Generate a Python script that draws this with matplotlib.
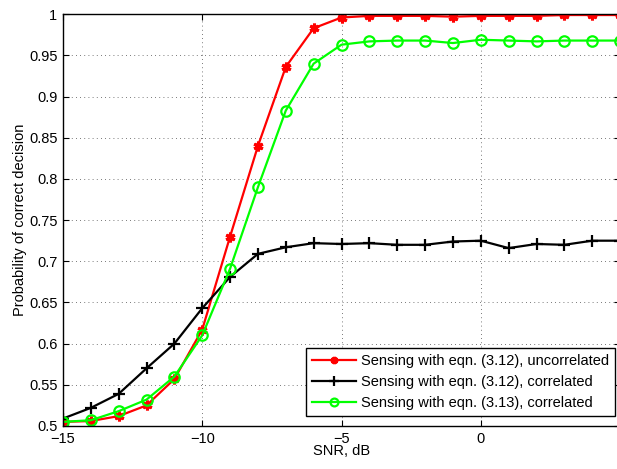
import matplotlib
matplotlib.use("Agg")
import matplotlib.pyplot as plt

plt.rcParams['font.family'] = ['Liberation Sans', 'DejaVu Sans']

snr_db = list(range(-15, 6))

p_uncorr_312 = [0.505, 0.506, 0.512, 0.525, 0.557, 0.617, 0.730, 0.840, 0.936, 0.983,
                0.996, 0.998, 0.998, 0.998, 0.997, 0.998, 0.998, 0.998, 0.999, 0.999, 0.999]
p_corr_312 = [0.509, 0.522, 0.539, 0.570, 0.600, 0.643, 0.681, 0.709, 0.717, 0.722,
              0.721, 0.722, 0.720, 0.720, 0.724, 0.725, 0.716, 0.721, 0.720, 0.725, 0.725]
p_corr_313 = [0.505, 0.507, 0.518, 0.532, 0.560, 0.610, 0.691, 0.790, 0.883, 0.940,
              0.963, 0.967, 0.968, 0.968, 0.965, 0.969, 0.968, 0.967, 0.968, 0.968, 0.968]

labels = ["Sensing with eqn. (3.12), uncorrelated",
          "Sensing with eqn. (3.12), correlated",
          "Sensing with eqn. (3.13), correlated"]

xticks = [-15, -10, -5, 0, 5]
xtick_labels = ["\u221215", "\u221210", "\u22125", "0", "5"]
yticks = [0.5, 0.55, 0.6, 0.65, 0.7, 0.75, 0.8, 0.85, 0.9, 0.95, 1.0]
ytick_labels = ["0.5", "0.55", "0.6", "0.65", "0.7", "0.75", "0.8", "0.85", "0.9", "0.95", "1"]

fig = plt.figure(figsize=(6.17, 4.69), dpi=100)
ax = fig.add_axes([0.102, 0.0917, 0.903, 0.878])

ax.plot(snr_db, p_uncorr_312, color='#ff0000', lw=1.6, marker=(6, 2, 0),
        ms=7, mew=2.2, label=labels[0])
ax.plot(snr_db, p_corr_312, color='black', lw=1.6, marker='+',
        ms=9, mew=1.6, label=labels[1])
ax.plot(snr_db, p_corr_313, color='#00ff00', lw=1.6, marker='o',
        ms=7.5, mew=1.6, mfc='none', label=labels[2])

ax.set_xlim(-15, 5)
ax.set_ylim(0.5, 1.0)
ax.set_xticks(xticks)
ax.set_xticklabels(xtick_labels)
ax.set_yticks(yticks)
ax.set_yticklabels(ytick_labels)
ax.tick_params(direction='in', top=True, right=True, labelsize=10.5, length=4, pad=4)
ax.grid(True, color='black', linestyle=(0, (1, 4)), linewidth=0.6, alpha=0.7)

for s in ax.spines.values():
    s.set_linewidth(1.0)

ax.set_xlabel("SNR, dB", fontsize=10.5, labelpad=-1)
ax.set_ylabel("Probability of correct decision", fontsize=10.5, labelpad=1)

leg = ax.legend(loc='lower right', bbox_to_anchor=(0.991, 0.024), fontsize=10.5,
                frameon=True, fancybox=False, edgecolor='black', framealpha=1,
                handlelength=3.0, borderpad=0.4, labelspacing=0.5, handletextpad=0.35,
                borderaxespad=0.0, markerscale=0.75)
leg.get_frame().set_linewidth(1.0)

fig.savefig("out.png", dpi=100)
